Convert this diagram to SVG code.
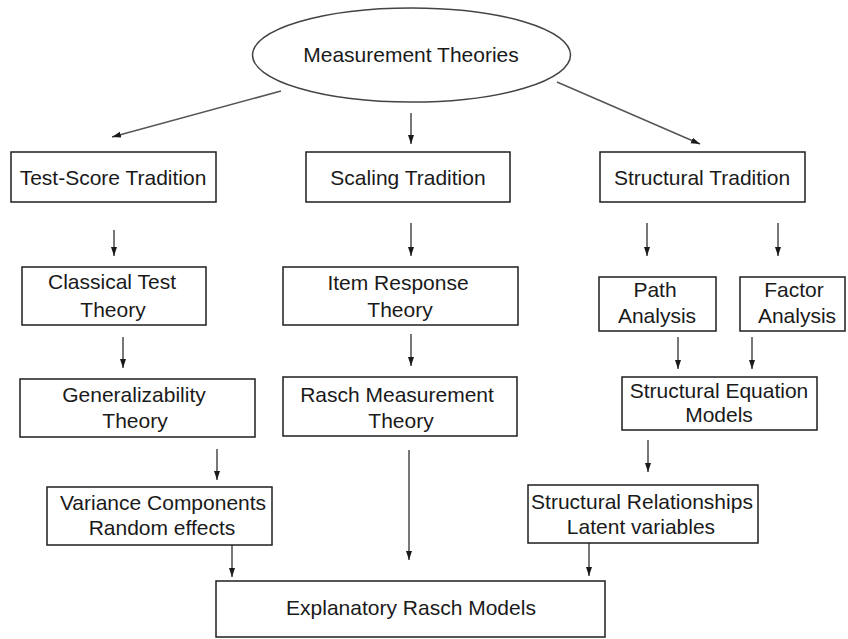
<svg xmlns="http://www.w3.org/2000/svg" width="848" height="639" viewBox="0 0 848 639">
<style>
.box{fill:#fff;stroke:#1e1e1e;stroke-width:1.5}
.t{font-family:"Liberation Sans",Arial,sans-serif;font-size:21px;fill:#1a1a1a;text-anchor:middle}
.c{stroke:#1e1e1e;stroke-width:1.2;fill:none;marker-end:url(#ah)}
.d{stroke:#555;stroke-width:1.5;fill:none;marker-end:url(#ah)}
</style>
<defs>
<marker id="ah" markerUnits="userSpaceOnUse" markerWidth="10" markerHeight="10" viewBox="0 0 10 10" refX="9" refY="5" orient="auto">
<path d="M0,2 L9,5 L0,8 Z" fill="#1a1a1a"/>
</marker>
</defs>
<rect width="848" height="639" fill="#fff"/>
<g id="connectors">
<line class="d" x1="281" y1="91" x2="112" y2="137"/>
<line class="c" x1="411" y1="113" x2="411" y2="144"/>
<line class="d" x1="557" y1="82" x2="700" y2="144"/>
<line class="c" x1="114" y1="230" x2="114" y2="256"/>
<line class="c" x1="411" y1="223" x2="411" y2="256"/>
<line class="c" x1="647" y1="223" x2="647" y2="256"/>
<line class="c" x1="778" y1="223" x2="778" y2="256"/>
<line class="c" x1="123" y1="337" x2="123" y2="368"/>
<line class="c" x1="411" y1="334" x2="411" y2="366"/>
<line class="c" x1="678" y1="337" x2="678" y2="369"/>
<line class="c" x1="752" y1="337" x2="752" y2="369"/>
<line class="c" x1="217" y1="449" x2="217" y2="480"/>
<line class="c" x1="648" y1="440" x2="648" y2="472"/>
<line class="c" x1="409" y1="450" x2="409" y2="560"/>
<line class="c" x1="232" y1="545" x2="232" y2="577"/>
<line class="c" x1="589" y1="543" x2="589" y2="576"/>
</g>
<g id="measurement-theories">
<ellipse cx="411.5" cy="55" rx="159" ry="47" fill="#fff" stroke="#444" stroke-width="1.5"/>
<text class="t" x="411" y="62">Measurement Theories</text>
</g>
<g id="test-score">
<rect class="box" x="11" y="152" width="205" height="50"/>
<text class="t" x="113" y="185">Test-Score Tradition</text>
</g>
<g id="scaling">
<rect class="box" x="306" y="152" width="204" height="50"/>
<text class="t" x="408" y="185">Scaling Tradition</text>
</g>
<g id="structural">
<rect class="box" x="600" y="152" width="205" height="50"/>
<text class="t" x="702" y="185">Structural Tradition</text>
</g>
<g id="classical">
<rect class="box" x="22" y="267" width="184" height="58"/>
<text class="t" x="112" y="289">Classical Test</text>
<text class="t" x="113" y="317">Theory</text>
</g>
<g id="irt">
<rect class="box" x="283" y="267" width="235" height="58"/>
<text class="t" x="398" y="290">Item Response</text>
<text class="t" x="400" y="317">Theory</text>
</g>
<g id="path">
<rect class="box" x="599" y="277" width="117" height="54"/>
<text class="t" x="655" y="297">Path</text>
<text class="t" x="657" y="323">Analysis</text>
</g>
<g id="factor">
<rect class="box" x="740" y="277" width="105" height="54"/>
<text class="t" x="794" y="297">Factor</text>
<text class="t" x="797" y="323">Analysis</text>
</g>
<g id="generalizability">
<rect class="box" x="20" y="379" width="235" height="58"/>
<text class="t" x="134" y="402">Generalizability</text>
<text class="t" x="135" y="428">Theory</text>
</g>
<g id="rasch">
<rect class="box" x="283" y="377" width="234" height="59"/>
<text class="t" x="397" y="402">Rasch Measurement</text>
<text class="t" x="401" y="428">Theory</text>
</g>
<g id="sem">
<rect class="box" x="622" y="377" width="195" height="53"/>
<text class="t" x="719" y="398">Structural Equation</text>
<text class="t" x="719" y="422">Models</text>
</g>
<g id="variance">
<rect class="box" x="47" y="487" width="225" height="58"/>
<text class="t" x="163" y="510">Variance Components</text>
<text class="t" x="162" y="535">Random effects</text>
</g>
<g id="structural-relationships">
<rect class="box" x="528" y="485" width="230" height="58"/>
<text class="t" x="642" y="509">Structural Relationships</text>
<text class="t" x="641" y="534">Latent variables</text>
</g>
<g id="explanatory">
<rect class="box" x="216" y="581" width="389" height="56"/>
<text class="t" x="411" y="615">Explanatory Rasch Models</text>
</g>
</svg>
